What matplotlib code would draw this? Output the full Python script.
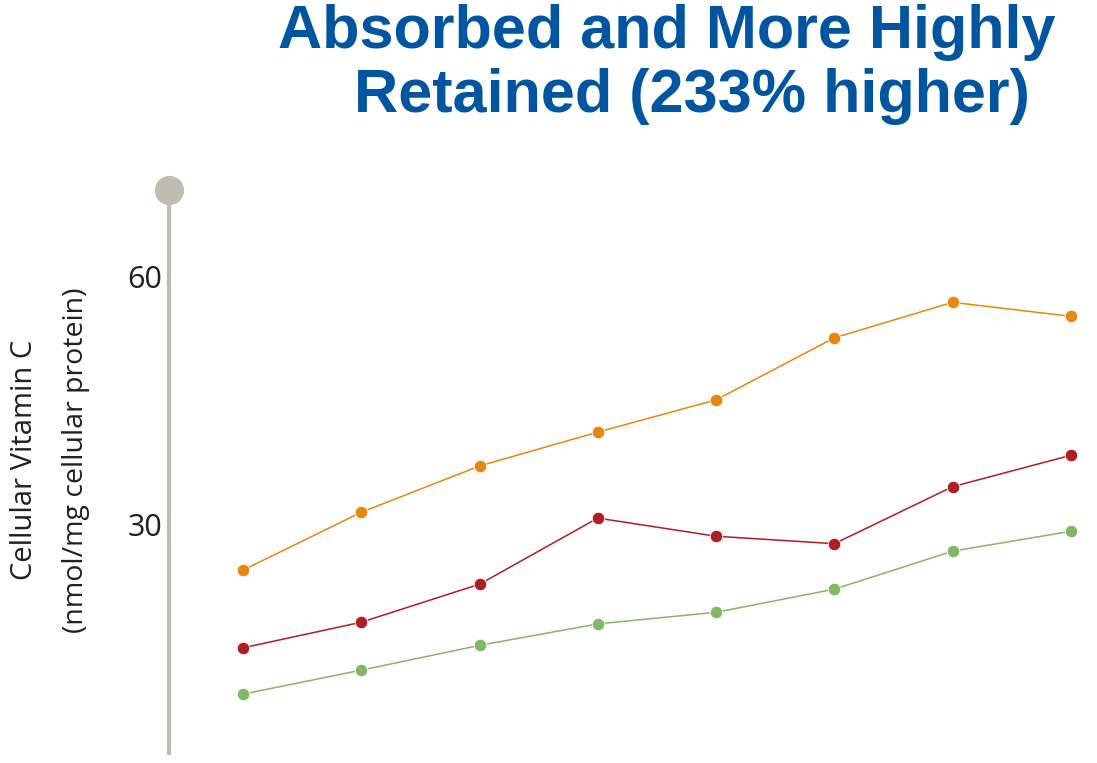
import matplotlib.pyplot as plt

# data
points = [0, 1, 2, 3, 4, 5, 6, 7]
orange_vals = [24.9, 31.9, 37.5, 41.6, 45.5, 53.0, 57.3, 55.6]
red_vals = [15.5, 18.6, 23.2, 31.2, 29.0, 28.1, 35.0, 38.8]
green_vals = [9.9, 12.8, 15.8, 18.4, 19.8, 22.6, 27.2, 29.6]
y_ticks = [30, 60]

orange = '#E8870E'
red = '#AE1F23'
green = '#84B765'
axis_grey = '#BDBDB0'
blue = '#0055A0'

fig = plt.figure(figsize=(10.97, 7.63), dpi=100)
ax = fig.add_axes([170 / 1097, 0, 927 / 1097, 1])
ax.set_xlim(-0.617, 7.22)
ax.set_ylim(1.57, 93.87)
ax.axis('off')

for vals, c in [(orange_vals, orange), (red_vals, red), (green_vals, green)]:
    ax.plot(points, vals, color=c, lw=1.1, marker='o', ms=9,
            mec='white', mew=0.6, zorder=3)

# vertical axis with knob on top
x0 = -0.625
ax.plot([x0, x0], [2.5, 70.9], color=axis_grey, lw=3, solid_capstyle='butt', clip_on=False)
ax.plot([x0], [70.9], 'o', color=axis_grey, ms=20, clip_on=False)

for t in y_ticks:
    ax.text(x0 - 0.06, t, str(t), ha='right', va='center', fontsize=22,
            family='Open Sans', color='#231F20')

fig.text(25 / 1097, 1 - 460 / 763, 'Cellular Vitamin C', rotation=90,
         ha='center', va='center', fontsize=21, family='Open Sans', color='#231F20')
fig.text(76 / 1097, 1 - 460 / 763, '(nmol/mg cellular protein)', rotation=90,
         ha='center', va='center', fontsize=20.5, family='Open Sans', color='#231F20')

title_font = ['Liberation Sans', 'DejaVu Sans']
fig.text(1055 / 1097, 1 - 48 / 763, 'Absorbed and More Highly', ha='right', va='baseline',
         fontsize=44, fontweight='bold', family=title_font, color=blue)
fig.text(1030 / 1097, 1 - 112 / 763, 'Retained (233% higher)', ha='right', va='baseline',
         fontsize=44, fontweight='bold', family=title_font, color=blue)

fig.savefig('out.png', dpi=100)
